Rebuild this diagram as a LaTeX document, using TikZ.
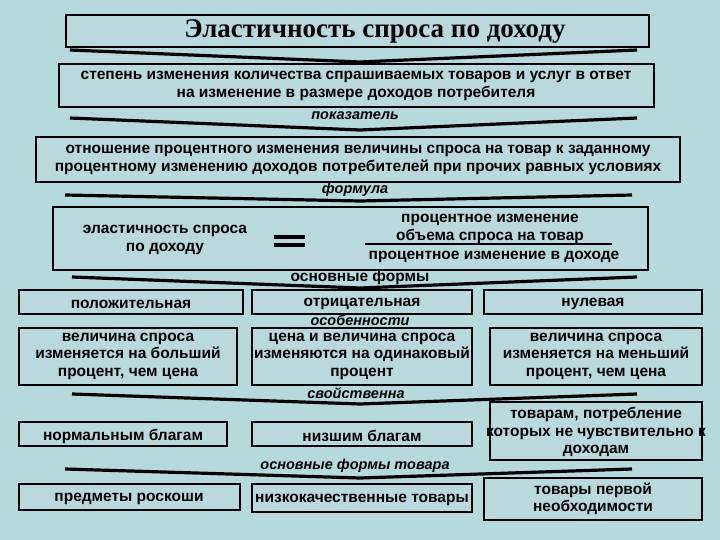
\documentclass[tikz,border=0pt]{standalone}
\usepackage{fontspec}
\setmainfont{Liberation Sans}
\newfontfamily\titlefont{Liberation Serif}
\definecolor{bg}{HTML}{B6D9DC}
\definecolor{boxfill}{HTML}{B9D9DC}
\begin{document}
\begin{tikzpicture}[x=1pt,y=-1pt,
  box/.style={draw=black,line width=2.6pt,fill=boxfill},
  txt/.style={align=center,font=\fontsize{15.5}{17.5}\selectfont\bfseries,inner sep=0pt},
  one/.style={txt,yshift=-2pt},
  lab/.style={font=\fontsize{14.5}{16}\selectfont\bfseries\itshape,inner sep=0pt},
  chev/.style={line width=3.2pt,line join=round}]
\fill[bg] (0,0) rectangle (720,540);
\useasboundingbox (0,0) rectangle (720,540);
% title
\draw[box] (66,15) rectangle (649,47);
\node[inner sep=0pt,font=\titlefont\fontsize{27}{29}\selectfont\bfseries] (title) at (375,31) {Эластичность спроса по доходу};
\draw[chev] (70,50) -- (360,62) -- (637,50);
% def
\draw[box] (59,64) rectangle (654,107);
\node[txt] (def) at (356,86) {степень изменения количества спрашиваемых товаров и услуг в ответ\\на изменение в размере доходов потребителя};
\draw[chev] (70,118) -- (360,130) -- (637,118);
\node[lab] (l1) at (355,116) {показатель};
% indicator
\draw[box] (36,137) rectangle (680,182);
\node[txt] (ind) at (358,160) {отношение процентного изменения величины спроса на товар к заданному\\процентному изменению доходов потребителей при прочих равных условиях};
\draw[chev] (65,195) -- (360,201) -- (632,195);
\node[lab] (l2) at (355,190) {формула};
% formula
\draw[box] (53,207) rectangle (648,270);
\node[txt] (fl) at (165,240) {эластичность спроса\\по доходу};
\fill (274,235) rectangle (305,238.5);
\fill (274,243) rectangle (305,246.5);
\coordinate (eq) at (290,241);
\node[txt] (num) at (490,229) {процентное изменение\\объема спроса на товар};
\draw[line width=1.3pt] (365,244) -- (612,244);
\node[one] (den) at (494,255) {процентное изменение в доходе};
\draw[chev] (72,277) -- (360,288) -- (637,277);
\node[one] (l3) at (360,275) {основные формы};
% row 1
\draw[box] (19,290) rectangle (243,314);
\node[one] (a1) at (131,302) {положительная};
\draw[box] (252,290) rectangle (472,314);
\node[one] (b1) at (362,302) {отрицательная};
\draw[box] (484,290) rectangle (702,314);
\node[one] (c1) at (593,302) {нулевая};
\node[lab] (l4) at (360,320) {особенности};
% row 2
\draw[box] (19,328) rectangle (237,385);
\node[txt] (a2) at (128,356) {величина спроса\\изменяется на больший\\процент, чем цена};
\draw[box] (252,328) rectangle (472,385);
\node[txt] (b2) at (362,356) {цена и величина спроса\\изменяются на одинаковый\\процент};
\draw[box] (490,328) rectangle (702,385);
\node[txt] (c2) at (596,356) {величина спроса\\изменяется на меньший\\процент, чем цена};
\draw[chev] (72,394) -- (360,404) -- (637,394);
\node[lab] (l5) at (356,393) {свойственна};
% row 3
\draw[box] (19,422) rectangle (227,446);
\node[one] (a3) at (123,434) {нормальным благам};
\draw[box] (252,422) rectangle (472,446);
\node[one] (b3) at (362,434) {низшим благам};
\draw[box] (490,402) rectangle (702,460);
\node[txt] (c3) at (596,432) {товарам, потребление\\которых не чувствительно к\\доходам};
\draw[chev] (65,469) -- (360,478) -- (632,469);
\node[lab] (l6) at (355,466) {основные формы товара};
% row 4
\draw[box] (19,484) rectangle (240,510);
\node[one] (a4) at (129,497) {предметы роскоши};
\draw[box] (252,484) rectangle (472,512);
\node[one] (b4) at (362,498) {низкокачественные товары};
\draw[box] (484,478) rectangle (702,520);
\node[txt] (c4) at (593,499) {товары первой\\необходимости};
\end{tikzpicture}
\end{document}
